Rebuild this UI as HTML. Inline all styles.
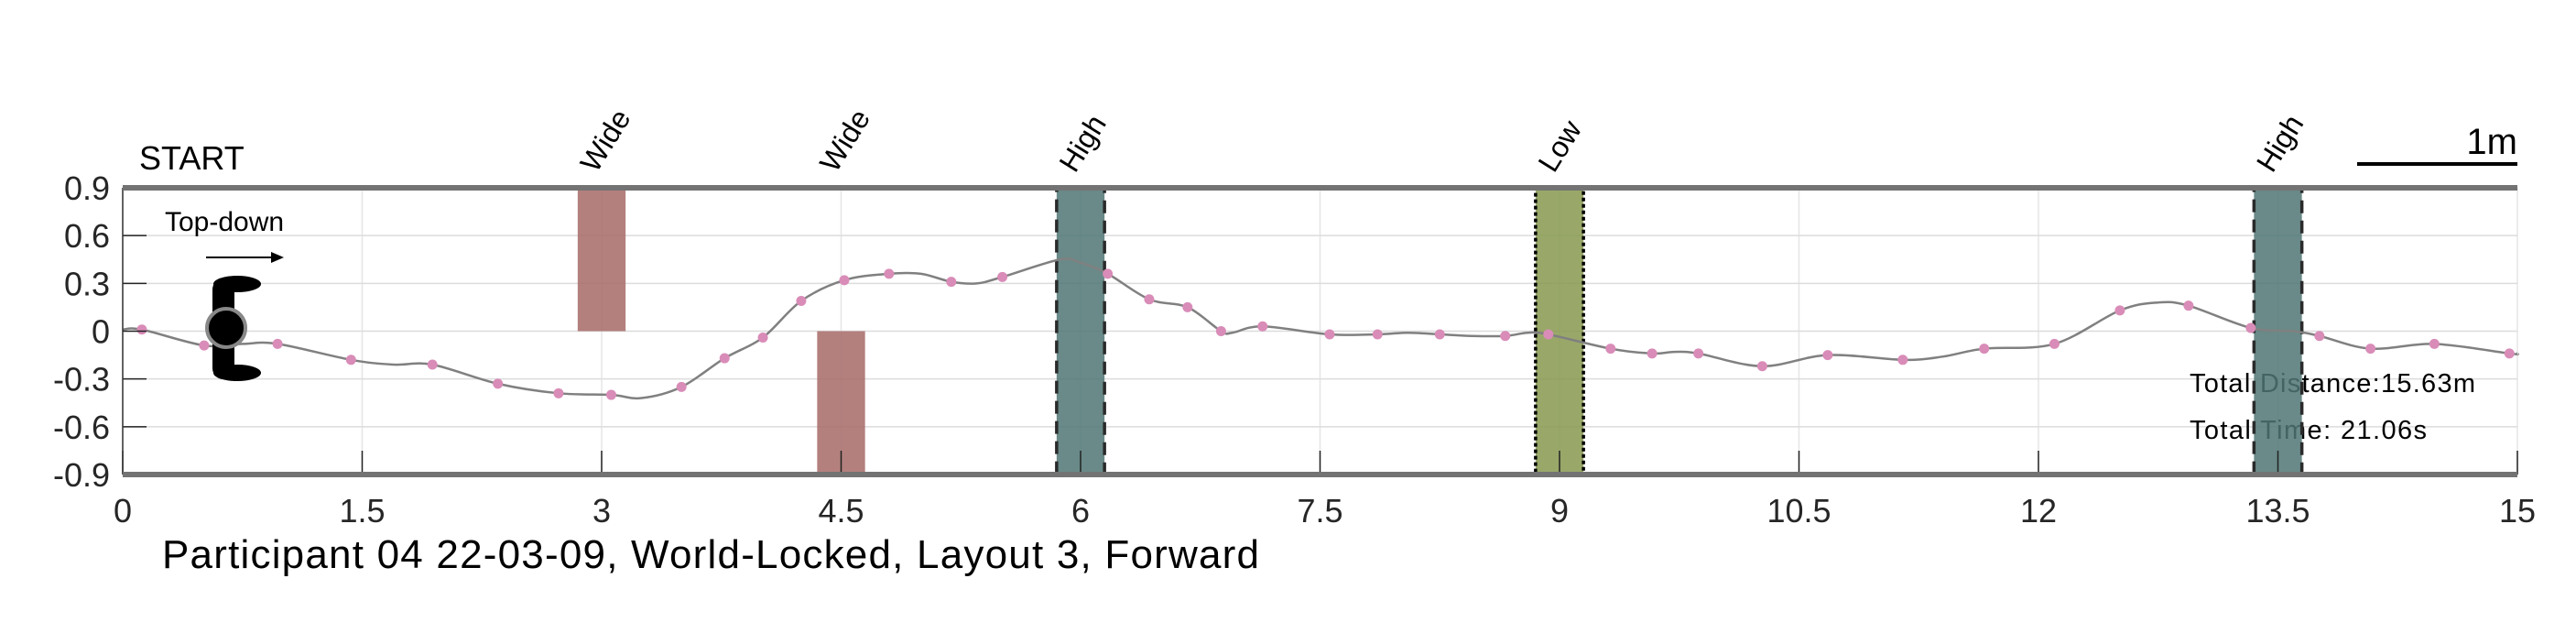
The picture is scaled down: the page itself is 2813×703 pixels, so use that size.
<!DOCTYPE html>
<html><head><meta charset="utf-8"><style>
html,body{margin:0;padding:0;background:#fff;}
svg{display:block;font-family:"Liberation Sans",sans-serif;}
</style></head><body>
<svg id="chart" width="2813" height="703" viewBox="0 0 2813 703" xmlns="http://www.w3.org/2000/svg">
<g id="grid"></g>
<g id="texts">
  <text x="152" y="185" font-size="36" fill="#000">START</text>
  <text x="180" y="252" font-size="30" fill="#000">Top-down</text>
  <line x1="225" y1="281" x2="300" y2="281" stroke="#000" stroke-width="2"/>
  <polygon points="310,281 296,275 296,287" fill="#000"/>
  <text x="2391" y="428" font-size="29" fill="#000" textLength="312">Total Distance:15.63m</text>
  <text x="2391" y="479" font-size="29" fill="#000" textLength="259">Total Time: 21.06s</text>
  <line x1="2574" y1="179" x2="2749" y2="179" stroke="#000" stroke-width="4"/>
  <text x="2749" y="168" font-size="40" text-anchor="end" fill="#000">1m</text>
  <text x="177" y="620" font-size="44" fill="#000" textLength="1198">Participant 04 22-03-09, World-Locked, Layout 3, Forward</text>
</g>
<g id="obstacles"></g>
<g id="series"></g>
<g id="axes"></g>
<g id="icon">
  <rect x="232" y="304" width="24" height="110" rx="12" fill="#000"/>
  <ellipse cx="259" cy="310" rx="26" ry="9" fill="#000"/>
  <ellipse cx="259" cy="407" rx="26" ry="9" fill="#000"/>
  <circle cx="247" cy="358" r="21" fill="#000" stroke="#888" stroke-width="4"/>
</g>
</svg>
<script>
const lineX = [0,0.12,0.51,0.75,0.97,1.43,1.7,1.94,2.35,2.73,3.06,3.25,3.5,3.77,4.01,4.25,4.52,4.8,5.0,5.19,5.35,5.51,5.87,6.0,6.17,6.43,6.67,6.88,6.95,7.14,7.56,7.86,8.05,8.25,8.45,8.66,8.8,8.93,9.32,9.58,9.72,9.87,10.27,10.68,11.15,11.4,11.66,12.1,12.51,12.75,12.94,13.33,13.6,13.76,14.08,14.48,14.95,15.0];
const lineY = [0.01,0.01,-0.09,-0.08,-0.08,-0.18,-0.21,-0.21,-0.33,-0.39,-0.40,-0.42,-0.35,-0.17,-0.04,0.19,0.32,0.36,0.36,0.31,0.30,0.34,0.45,0.43,0.36,0.20,0.15,0.0,-0.01,0.03,-0.02,-0.02,-0.01,-0.02,-0.03,-0.03,-0.01,-0.02,-0.11,-0.14,-0.13,-0.14,-0.22,-0.15,-0.18,-0.16,-0.11,-0.08,0.13,0.18,0.16,0.02,0.0,-0.03,-0.11,-0.08,-0.14,-0.14];
const markerX = [0.12,0.51,0.97,1.43,1.94,2.35,2.73,3.06,3.5,3.77,4.01,4.25,4.52,4.8,5.19,5.51,6.17,6.43,6.67,6.88,7.14,7.56,7.86,8.25,8.66,8.93,9.32,9.58,9.87,10.27,10.68,11.15,11.66,12.1,12.51,12.94,13.33,13.76,14.08,14.48,14.95];
const markerY = [0.01,-0.09,-0.08,-0.18,-0.21,-0.33,-0.39,-0.40,-0.35,-0.17,-0.04,0.19,0.32,0.36,0.31,0.34,0.36,0.20,0.15,0.0,0.03,-0.02,-0.02,-0.02,-0.03,-0.02,-0.11,-0.14,-0.14,-0.22,-0.15,-0.18,-0.11,-0.08,0.13,0.16,0.02,-0.03,-0.11,-0.08,-0.14];
const xTicks = [0,1.5,3,4.5,6,7.5,9,10.5,12,13.5,15];
const xTickLabels = ["0","1.5","3","4.5","6","7.5","9","10.5","12","13.5","15"];
const yTicks = [-0.9,-0.6,-0.3,0,0.3,0.6,0.9];
const yTickLabels = ["-0.9","-0.6","-0.3","0","0.3","0.6","0.9"];
const obstacleX = [3,4.5,6,9,13.5];
const obstacleType = ["Wide","Wide","High","Low","High"];
const obstacleSide = ["top","bottom","full","full","full"];
const obstacleWidth = 0.3;

const NS="http://www.w3.org/2000/svg";
const X0=134,X1=2749,Y0=518,Y1=205;
function sx(v){return X0+(v-0)/(15-0)*(X1-X0);}
function sy(v){return Y0-(v+0.9)/(1.8)*(Y0-Y1);}
function mk(tag,attrs,parent){const e=document.createElementNS(NS,tag);for(const k in attrs)e.setAttribute(k,attrs[k]);parent.appendChild(e);return e;}
const grid=document.getElementById('grid'),axes=document.getElementById('axes'),obs=document.getElementById('obstacles'),ser=document.getElementById('series');

xTicks.forEach((t,i)=>{
  const g=mk('line',{x1:sx(t),x2:sx(t),y1:Y1,y2:Y0,stroke:'#e6e6e6','stroke-width':1.5},grid);
  
  
  const tk=mk('line',{x1:sx(t),x2:sx(t),y1:Y0-26,y2:Y0,stroke:'#222','stroke-width':1.5},axes);
  
  
  const lb=mk('text',{x:sx(t),y:570,'font-size':36,'text-anchor':'middle',fill:'#262626'},axes);
  lb.textContent=xTickLabels[i];
  
  
});
yTicks.forEach((t,i)=>{
  const g=mk('line',{x1:X0,x2:X1,y1:sy(t),y2:sy(t),stroke:'#dcdcdc','stroke-width':1.5},grid);
  
  
  const tk=mk('line',{x1:X0,x2:X0+26,y1:sy(t),y2:sy(t),stroke:'#222','stroke-width':1.5},axes);
  
  
  const lb=mk('text',{x:120,y:sy(t)+13,'font-size':36,'text-anchor':'end',fill:'#262626'},axes);
  lb.textContent=yTickLabels[i];
  
  
});
const la=mk('line',{x1:X0,x2:X0,y1:Y1,y2:Y0,stroke:'#333','stroke-width':1.5},axes);


const ta=mk('line',{x1:X0,x2:X1,y1:Y1,y2:Y1,stroke:'#737373','stroke-width':6},axes);


const ba=mk('line',{x1:X0,x2:X1,y1:Y0,y2:Y0,stroke:'#737373','stroke-width':6},axes);



// trajectory line (Catmull-Rom)
const pts=lineX.map((x,i)=>[sx(x),sy(lineY[i])]);
let d='M'+pts[0][0]+','+pts[0][1];
for(let i=0;i<pts.length-1;i++){
  const p0=pts[Math.max(0,i-1)],p1=pts[i],p2=pts[i+1],p3=pts[Math.min(pts.length-1,i+2)];
  const c1=[p1[0]+(p2[0]-p0[0])/6,p1[1]+(p2[1]-p0[1])/6],c2=[p2[0]-(p3[0]-p1[0])/6,p2[1]-(p3[1]-p1[1])/6];
  d+=` C${c1[0]},${c1[1]} ${c2[0]},${c2[1]} ${p2[0]},${p2[1]}`;
}
const path=mk('path',{d:d,fill:'none',stroke:'#808080','stroke-width':2.5},ser);


markerX.forEach((x,i)=>{
  const c=mk('circle',{cx:sx(x),cy:sy(markerY[i]),r:5.5,fill:'#d98cb8'},ser);
  
  
});

// obstacles (drawn over series)
obstacleX.forEach((x,i)=>{
  const l=sx(x-obstacleWidth/2),w=sx(x+obstacleWidth/2)-l;
  const t=obstacleType[i],side=obstacleSide[i];
  let y1=Y1,y2=Y0,fill,stroke=null,dash=null;
  if(t==='Wide'){fill='#a86e6c';if(side==='top'){y2=sy(0);}else{y1=sy(0);} }
  else if(t==='High'){fill='#4f7573';stroke='#2a2a2a';dash='14 8';}
  else {fill='#87994f';stroke='#000';dash='4 3';}
  const r=mk('rect',{x:l,y:y1,width:w,height:y2-y1,fill:fill,'fill-opacity':t==='Wide'?0.88:0.85},obs);
  if(stroke){r.setAttribute('stroke',stroke);r.setAttribute('stroke-width',3.5);r.setAttribute('stroke-dasharray',dash);}
  
  
  const tx=sx(x)-6,ty=190;
  const lb=mk('text',{x:tx,y:ty,'font-size':32,fill:'#000',transform:`rotate(-58 ${tx} ${ty})`},obs);
  lb.textContent=t;
  
  
});
// bring icon to front
document.getElementById('chart').appendChild(document.getElementById('icon'));
</script>
</body></html>
